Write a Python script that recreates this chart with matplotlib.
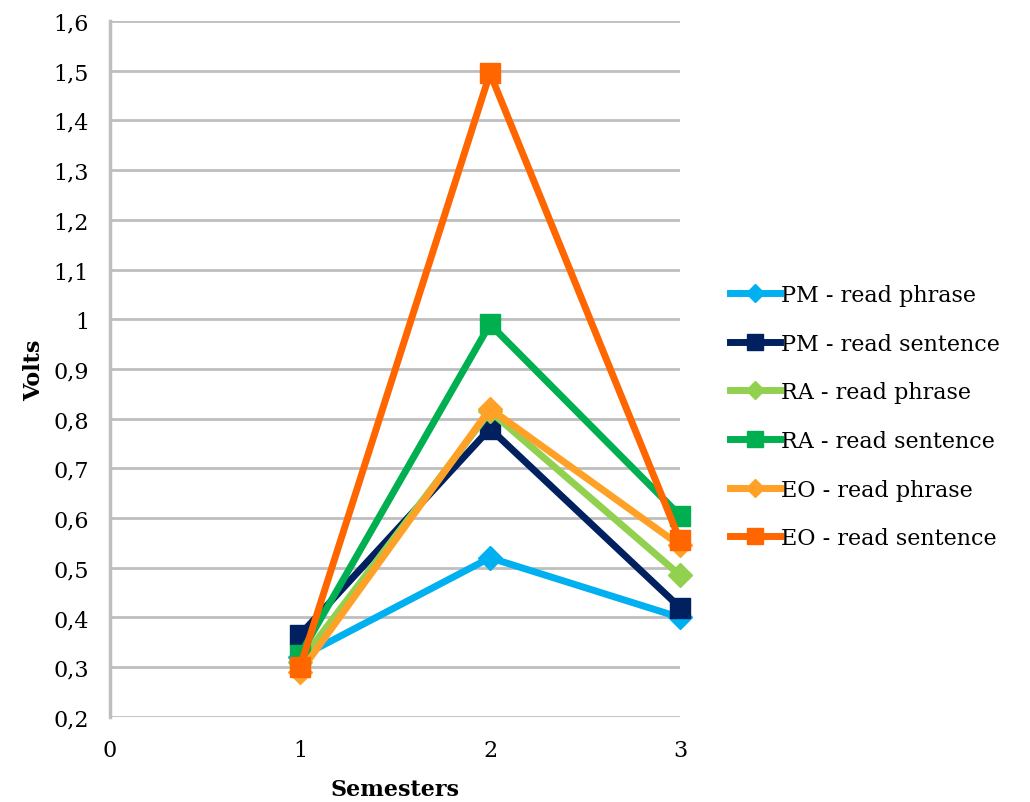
import matplotlib.pyplot as plt
from matplotlib.ticker import FuncFormatter

plt.rcParams['font.family'] = ['DejaVu Serif']

semesters = [1, 2, 3]
series_names = ["PM - read phrase", "PM - read sentence", "RA - read phrase",
                "RA - read sentence", "EO - read phrase", "EO - read sentence"]
pm_phrase = [0.32, 0.52, 0.40]
pm_sentence = [0.365, 0.78, 0.42]
ra_phrase = [0.31, 0.815, 0.485]
ra_sentence = [0.325, 0.99, 0.605]
eo_phrase = [0.29, 0.82, 0.545]
eo_sentence = [0.30, 1.495, 0.555]
colors = ["#00B0F0", "#002060", "#92D050", "#00B050", "#FFA126", "#FF6600"]
markers = ["D", "s", "D", "s", "D", "s"]


def comma_fmt(v, pos):
    s = f"{v:.1f}".replace(".", ",")
    return s[:-2] if s.endswith(",0") else s


fig = plt.figure(figsize=(10.3, 8.03), dpi=100)
ax = fig.add_axes([0.1068, 0.106, 0.5534, 0.8666])

all_series = [pm_phrase, pm_sentence, ra_phrase, ra_sentence, eo_phrase, eo_sentence]
for vals, name, c, m in zip(all_series, series_names, colors, markers):
    ms = 15 if m == "s" else 12
    ax.plot(semesters, vals, color=c, lw=5, marker=m, markersize=ms,
            label=name, solid_joinstyle='miter', clip_on=False)

ax.set_xlim(0, 3)
ax.set_ylim(0.2, 1.6)
ax.set_xticks([0, 1, 2, 3])
ax.set_yticks([0.2 + 0.1 * i for i in range(15)])
ax.yaxis.set_major_formatter(FuncFormatter(comma_fmt))
ax.grid(axis='y', color='#BEBEBE', lw=2)
ax.set_axisbelow(True)
for s in ["top", "right", "bottom"]:
    ax.spines[s].set_visible(False)
ax.spines["left"].set_color('#BEBEBE')
ax.spines["left"].set_linewidth(2.5)
ax.tick_params(length=0, labelsize=16, pad=16)
ax.tick_params(axis='y', pad=15)
ax.set_xlabel("Semesters", fontsize=16, fontweight='bold', labelpad=12)
ax.set_ylabel("Volts", fontsize=16, fontweight='bold', labelpad=6)

fig.legend(loc='center left', bbox_to_anchor=(0.689, 0.48), frameon=False,
           fontsize=16, handlelength=2.25, handletextpad=0.05, labelspacing=1.2,
           markerscale=0.8)

fig.savefig("out.png", dpi=100)
